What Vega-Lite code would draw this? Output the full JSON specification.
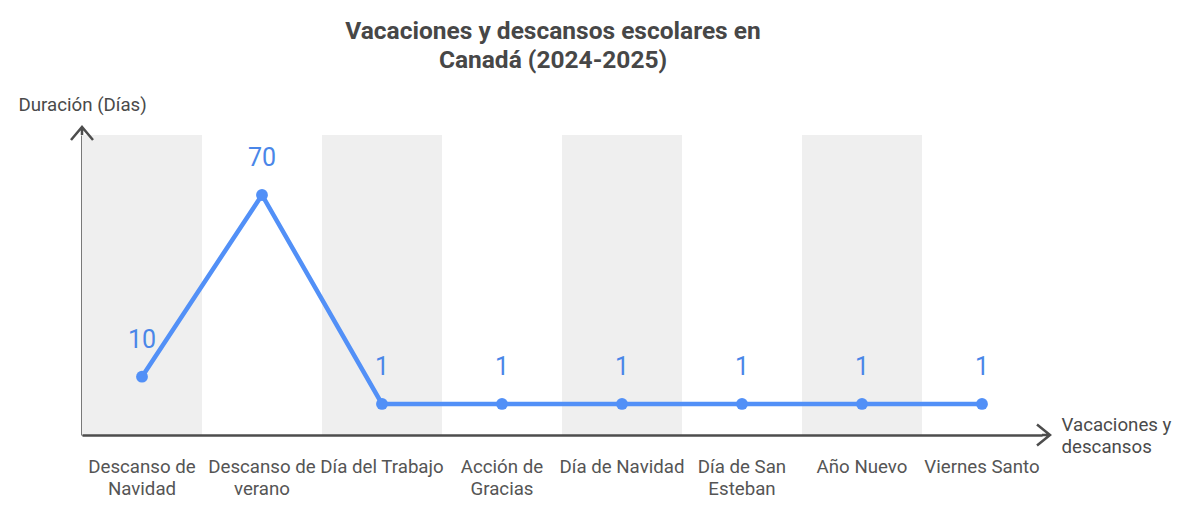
{
  "$schema": "https://vega.github.io/schema/vega-lite/v6.json",
  "width": 960,
  "height": 300,
  "autosize": {"type": "none"},
  "padding": {"left": 82, "top": 135, "right": 151, "bottom": 80},
  "background": "#ffffff",
  "config": {
    "view": {"stroke": null},
    "font": "Roboto"
  },
  "title": {
    "text": ["Vacaciones y descansos escolares en", "Canadá (2024-2025)"],
    "font": "Roboto",
    "fontSize": 24.5,
    "fontWeight": "bold",
    "color": "#474747",
    "lineHeight": 29,
    "anchor": "middle",
    "frame": "group",
    "dx": -9,
    "offset": 22
  },
  "data": {
    "values": [
      {"evento": "Descanso de Navidad", "dias": 10, "orden": 1},
      {"evento": "Descanso de verano", "dias": 70, "orden": 2},
      {"evento": "Día del Trabajo", "dias": 1, "orden": 3},
      {"evento": "Acción de Gracias", "dias": 1, "orden": 4},
      {"evento": "Día de Navidad", "dias": 1, "orden": 5},
      {"evento": "Día de San Esteban", "dias": 1, "orden": 6},
      {"evento": "Año Nuevo", "dias": 1, "orden": 7},
      {"evento": "Viernes Santo", "dias": 1, "orden": 8}
    ]
  },
  "encoding": {
    "x": {
      "field": "evento",
      "type": "nominal",
      "scale": {
        "domain": ["Descanso de Navidad", "Descanso de verano", "Día del Trabajo", "Acción de Gracias", "Día de Navidad", "Día de San Esteban", "Año Nuevo", "Viernes Santo"],
        "paddingInner": 0,
        "paddingOuter": 0
      },
      "axis": {
        "domain": true,
        "domainColor": "#4d4d4d",
        "domainWidth": 2.5,
        "ticks": false,
        "grid": false,
        "labelAngle": 0,
        "labelFont": "Roboto",
        "labelFontSize": 18.7,
        "labelColor": "#555555",
        "labelBaseline": "top",
        "labelPadding": 22,
        "labelLineHeight": 22,
        "labelLimit": 0,
        "labelExpr": "length(datum.label) > 15 ? [slice(datum.label, 0, lastindexof(datum.label, ' ')), slice(datum.label, lastindexof(datum.label, ' ') + 1)] : datum.label",
        "title": ["Vacaciones y", "descansos"],
        "titleFont": "Roboto",
        "titleFontSize": 18.7,
        "titleFontWeight": "normal",
        "titleColor": "#4a4a4a",
        "titleAngle": 0,
        "titleAlign": "left",
        "titleBaseline": "alphabetic",
        "titleLineHeight": 22,
        "titleX": 979,
        "titleY": -5
      }
    }
  },
  "layer": [
    {
      "transform": [{"filter": "datum.orden % 2 == 1"}],
      "mark": {"type": "rect", "color": "#efefef"},
      "encoding": {}
    },
    {
      "mark": {
        "type": "line",
        "color": "#5290f7",
        "strokeWidth": 4.5,
        "point": {"filled": true, "size": 140, "color": "#5290f7"}
      },
      "encoding": {
        "y": {
          "field": "dias",
          "type": "quantitative",
          "scale": {"domain": [-9.25, 89.8], "nice": false, "zero": false},
          "axis": {
            "domain": true,
            "domainColor": "#4d4d4d",
            "domainWidth": 2.5,
            "ticks": false,
            "labels": false,
            "grid": false,
            "title": "Duración (Días)",
            "titleFont": "Roboto",
            "titleFontSize": 18.7,
            "titleFontWeight": "normal",
            "titleColor": "#4a4a4a",
            "titleAngle": 0,
            "titleAlign": "left",
            "titleBaseline": "middle",
            "titleX": -64,
            "titleY": -31
          }
        }
      }
    },
    {
      "mark": {
        "type": "text",
        "color": "#4a86e8",
        "fontSize": 25,
        "font": "Roboto",
        "baseline": "middle",
        "align": "center",
        "dy": -37
      },
      "encoding": {
        "y": {"field": "dias", "type": "quantitative"},
        "text": {"field": "dias", "type": "quantitative"}
      }
    },
    {
      "transform": [{"filter": "datum.orden == 1"}],
      "mark": {
        "type": "point",
        "shape": "M0,0 L0,-0.8 M-1.1,0.5 L0,-0.8 L1.1,0.5",
        "size": 400,
        "filled": false,
        "stroke": "#4d4d4d",
        "strokeWidth": 2.5,
        "opacity": 1
      },
      "encoding": {
        "x": {"field": "evento", "type": "nominal", "bandPosition": 0},
        "y": {"datum": 89.8, "type": "quantitative"}
      }
    },
    {
      "transform": [{"filter": "datum.orden == 8"}],
      "mark": {
        "type": "point",
        "shape": "M0,0 L0.8,0 M-0.5,-1.05 L0.8,0 L-0.5,1.05",
        "size": 400,
        "filled": false,
        "stroke": "#4d4d4d",
        "strokeWidth": 2.5,
        "opacity": 1
      },
      "encoding": {
        "x": {"field": "evento", "type": "nominal", "bandPosition": 1},
        "y": {"datum": -9.25, "type": "quantitative"}
      }
    }
  ]
}
